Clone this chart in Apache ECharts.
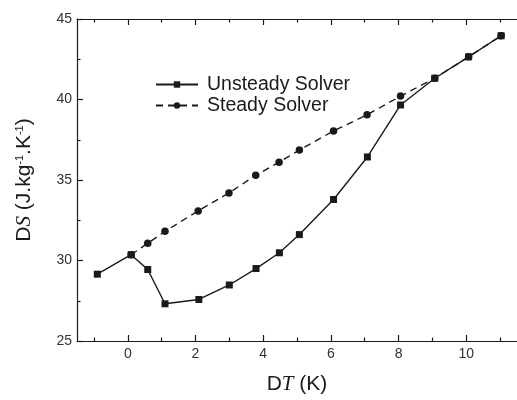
<!DOCTYPE html>
<html>
<head>
<meta charset="utf-8">
<script src="https://cdn.jsdelivr.net/npm/echarts@6/dist/echarts.min.js"></script>
<style>html,body{margin:0;padding:0;background:#fff}#c{width:517px;height:400px}</style>
</head>
<body>
<div id="c"></div>
<script>
// Data
var unsteadyX = [-0.9, 0.1, 0.59, 1.1, 2.1, 3.0, 3.79, 4.48, 5.07, 6.08, 7.08, 8.06, 9.07, 10.07, 11.03];
var unsteadyY = [29.15, 30.36, 29.44, 27.31, 27.58, 28.48, 29.5, 30.48, 31.61, 33.79, 36.43, 39.66, 41.32, 42.65, 43.96];
var steadyX = [0.1, 0.59, 1.1, 2.08, 2.99, 3.78, 4.47, 5.07, 6.08, 7.07, 8.06, 9.07, 10.07, 11.03];
var steadyY = [30.36, 31.07, 31.81, 33.08, 34.2, 35.29, 36.1, 36.86, 38.05, 39.05, 40.21, 41.32, 42.65, 43.96];
var xMajorTicks = [0, 2, 4, 6, 8, 10];
var xMinorTicks = [-1, 1, 3, 5, 7, 9, 11];
var seriesNames = ['Unsteady Solver', 'Steady Solver'];

function pairs(xs, ys) { return xs.map(function (x, i) { return [x, ys[i]]; }); }

var INK = '#1a1a1a';
var SANS = '"Liberation Sans", Arial, sans-serif';
var SERIF = '"Liberation Serif", "Times New Roman", serif';

function xAxisDef(pos, ticks, len, showLine, showLabel) {
  return {
    type: 'value', position: pos, min: -1.5, max: 11.5,
    axisLine: { show: showLine, onZero: false, lineStyle: { color: INK, width: 1.2 } },
    axisTick: { show: true, inside: true, length: len, customValues: ticks, lineStyle: { color: INK, width: 1.2 } },
    axisLabel: showLabel ? { show: true, customValues: ticks, margin: 6, color: '#333', fontSize: 14, fontFamily: SANS } : { show: false },
    splitLine: { show: false }
  };
}

var chart = echarts.init(document.getElementById('c'), null, { renderer: 'canvas' });
var xa0 = xAxisDef('bottom', xMajorTicks, 6, true, true);
xa0.name = '{d|D}{t|T}{k| (K)}';
xa0.nameLocation = 'middle';
xa0.nameGap = 33;
xa0.nameTextStyle = {
  rich: {
    d: { fontFamily: SANS, fontSize: 21, color: INK },
    t: { fontFamily: SERIF, fontStyle: 'italic', fontSize: 21, color: INK },
    k: { fontFamily: SANS, fontSize: 21, color: INK }
  }
};

chart.setOption({
  animation: false,
  backgroundColor: '#fff',
  grid: { left: 77, top: 19, bottom: 55, width: 449, containLabel: false },
  legend: {
    orient: 'vertical', left: 155, top: 74.5, padding: 0,
    itemWidth: 42, itemHeight: 8, itemGap: 1,
    textStyle: { fontSize: 19.5, fontFamily: SANS, color: INK, padding: [0, 0, 0, 4] },
    data: seriesNames
  },
  xAxis: [
    xa0,
    xAxisDef('bottom', xMinorTicks, 3.5, false, false),
    xAxisDef('top', xMajorTicks, 6, true, false),
    xAxisDef('top', xMinorTicks, 3.5, false, false)
  ],
  yAxis: {
    type: 'value', min: 25, max: 45, interval: 5,
    axisLine: { show: true, onZero: false, lineStyle: { color: INK, width: 1.2 } },
    axisTick: { show: true, inside: true, length: 6, lineStyle: { color: INK, width: 1.2 } },
    minorTick: { show: true, splitNumber: 2, length: 3.5, lineStyle: { color: INK, width: 1.2 } },
    axisLabel: { margin: 5, color: '#333', fontSize: 14, fontFamily: SANS },
    splitLine: { show: false },
    name: '{d|D}{s|S}{k| (J.kg}{p|-1}{k|.K}{p|-1}{k|)}',
    nameLocation: 'middle',
    nameGap: 42,
    nameTextStyle: {
      rich: {
        d: { fontFamily: SANS, fontSize: 21, color: INK },
        s: { fontFamily: SERIF, fontStyle: 'italic', fontSize: 21, color: INK },
        k: { fontFamily: SANS, fontSize: 21, color: INK },
        p: { fontFamily: SANS, fontSize: 11, color: INK, verticalAlign: 'top', lineHeight: 21 }
      }
    }
  },
  series: [
    {
      name: seriesNames[1], type: 'line', xAxisIndex: 0,
      data: pairs(steadyX, steadyY),
      symbol: 'circle', symbolSize: 7.5,
      itemStyle: { color: INK },
      lineStyle: { color: INK, width: 1.4, type: [7, 5] },
      z: 2
    },
    {
      name: seriesNames[0], type: 'line', xAxisIndex: 0,
      data: pairs(unsteadyX, unsteadyY),
      symbol: 'rect', symbolSize: 7,
      itemStyle: { color: INK },
      lineStyle: { color: INK, width: 1.4, type: 'solid' },
      z: 3
    }
  ]
});
</script>
</body>
</html>
